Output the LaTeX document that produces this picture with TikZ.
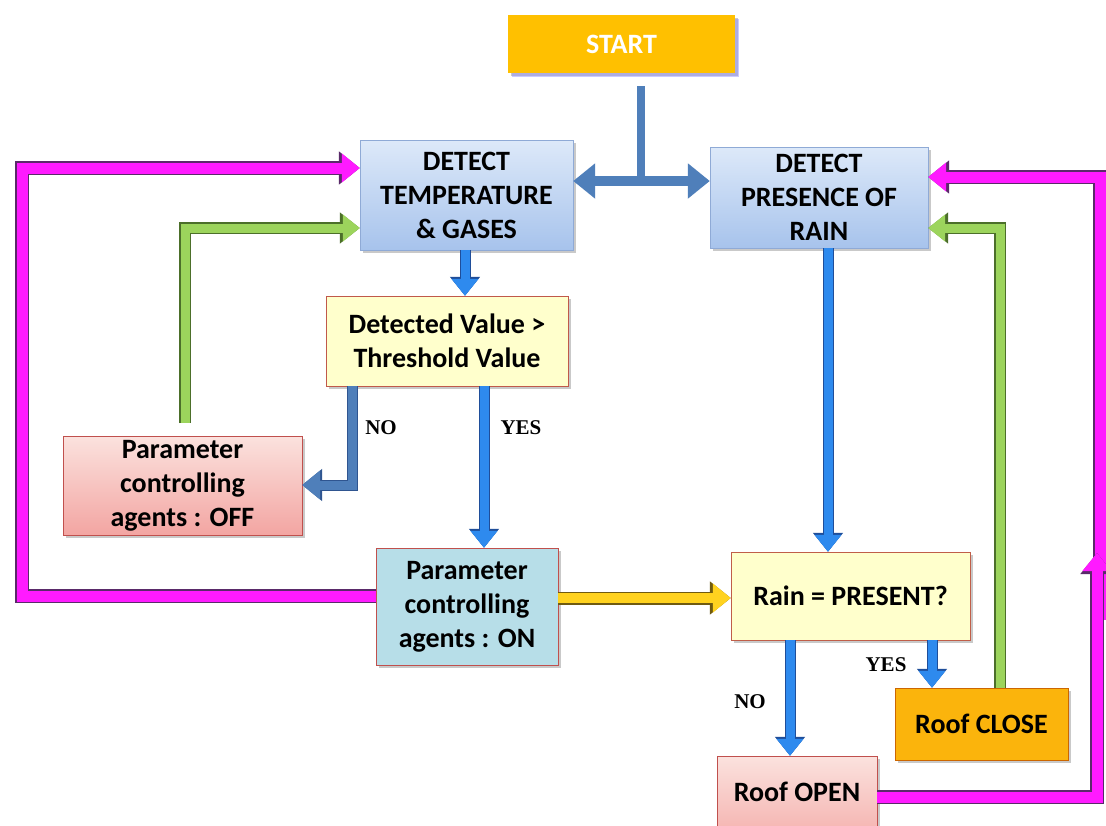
\documentclass[tikz,border=0pt]{standalone}
\usepackage{fontspec}
\setmainfont{Carlito}
\newfontfamily\tnr{Liberation Serif}
\usetikzlibrary{arrows.meta,shadows,calc}
\definecolor{startor}{HTML}{FFC000}
\definecolor{closeor}{HTML}{FBB40C}
\definecolor{bluetop}{HTML}{DDE9F9}
\definecolor{bluebot}{HTML}{A7C3EC}
\definecolor{blueedge}{HTML}{8FAAD6}
\definecolor{lyellow}{HTML}{FFFFCC}
\definecolor{pinktop}{HTML}{FBE2DE}
\definecolor{pinkbot}{HTML}{F3A5A2}
\definecolor{redge}{HTML}{C0504D}
\definecolor{onblue}{HTML}{B7DEE8}
\definecolor{steel}{HTML}{4F7FBA}
\definecolor{steeldark}{HTML}{2F5590}
\definecolor{bblue}{HTML}{2E8AEE}
\definecolor{bbluedark}{HTML}{1F4E9A}
\definecolor{magentaA}{HTML}{FF1AFF}
\definecolor{magdark}{HTML}{5A2A6A}
\definecolor{greenA}{HTML}{9CD45C}
\definecolor{greendark}{HTML}{4C6F2A}
\definecolor{yellowA}{HTML}{FFD21F}
\definecolor{yellowdark}{HTML}{6F5A10}
\tikzset{
  box/.style={rectangle, align=center, inner sep=0pt, font=\fontsize{28}{34}\selectfont\bfseries,
    drop shadow={shadow xshift=3pt, shadow yshift=-3pt, opacity=0.35, fill=black!60}},
  lbl/.style={font=\tnr\fontsize{21}{24}\selectfont\bfseries},
  pinkline/.style={draw=magentaA, line width=11pt,
    preaction={draw=magdark, line width=14pt}},
  pinkarr/.style={draw=magentaA, line width=11pt, -{Triangle[width=28pt,length=18pt]},
    preaction={draw=magdark, line width=14pt, -{Triangle[width=32pt,length=21pt]}}},
  greenarr/.style={draw=greenA, line width=9pt, -{Triangle[width=26pt,length=17pt]},
    preaction={draw=greendark, line width=12pt, -{Triangle[width=30pt,length=20pt]}}},
  yellowarr/.style={draw=yellowA, line width=10pt, -{Triangle[width=28pt,length=18pt]},
    preaction={draw=yellowdark, line width=13pt, -{Triangle[width=32pt,length=21pt]}}},
  steelarr/.style={draw=steel, line width=9pt, -{Triangle[width=28pt,length=18pt]},
    preaction={draw=steeldark, line width=11pt, -{Triangle[width=31pt,length=20pt]}}},
  steelline/.style={draw=steel, line width=8pt},
  steeldbl/.style={draw=steel, line width=10pt, {Triangle[width=34pt,length=22pt]}-{Triangle[width=34pt,length=22pt]}},
  bluearr/.style={draw=bblue, line width=9pt, -{Triangle[width=26pt,length=17pt]},
    preaction={draw=bbluedark, line width=11pt, -{Triangle[width=29pt,length=19pt]}}},
}
\begin{document}
\begin{tikzpicture}[x=1pt, y=-1pt]
\useasboundingbox (0,0) rectangle (1106,825);
\clip (0,0) rectangle (1106,825);
\fill[white] (0,0) rectangle (1106,825);

% nodes
\node[box, fill=startor, text=white, minimum width=227pt, minimum height=58pt,
  drop shadow={shadow xshift=4pt, shadow yshift=-4pt, opacity=0.45, fill=blue!45}] (start) at (621.5,44) {START};
\node[box, draw=blueedge, top color=bluetop, bottom color=bluebot, minimum width=213pt, minimum height=110pt] (temp) at (466.5,195) {DETECT\\TEMPERATURE\\\& GASES};
\node[box, draw=blueedge, top color=bluetop, bottom color=bluebot, minimum width=218pt, minimum height=101pt] (rain) at (819,197.5) {DETECT\\PRESENCE OF\\RAIN};
\node[box, draw=redge!80!brown, fill=lyellow, minimum width=242pt, minimum height=90pt] (detected) at (447,341) {Detected Value \textgreater\\Threshold Value};
\node[box, draw=redge, top color=pinktop, bottom color=pinkbot, minimum width=239pt, minimum height=99pt] (off) at (182.5,485.5) {Parameter\\controlling\\agents : OFF};
\node[box, draw=redge, fill=onblue, minimum width=182pt, minimum height=117pt] (on) at (467,606.5) {Parameter\\controlling\\agents : ON};
\node[box, draw=redge!70!brown, fill=lyellow, minimum width=239pt, minimum height=88pt] (rainq) at (850.5,596) {Rain = PRESENT?};
\node[box, draw=orange!80!black, fill=closeor, minimum width=173pt, minimum height=72pt] (close) at (981.5,724) {Roof CLOSE};
\node[box, draw=redge, top color=pinktop, bottom color=pinkbot!70!pinktop, minimum width=160pt, minimum height=72pt] (open) at (797,792) {Roof OPEN};

% coordinates for connectors
\coordinate (s1) at (641,86);
\coordinate (s2) at (641,181);
\coordinate (pl1) at (22,596);
\coordinate (pl2) at (22,168);
\coordinate (gl1) at (185,423);
\coordinate (gl2) at (185,228);
\coordinate (no1) at (352,386);
\coordinate (no2) at (352,485);
\coordinate (yes1) at (484,386);
\coordinate (gr1) at (1000,688);
\coordinate (gr2) at (1000,228);
\coordinate (pr1) at (1100,620);
\coordinate (pr2) at (1100,177);
\coordinate (po1) at (1097,797);
\coordinate (po2) at (1097,553);

% START split
\draw[steelline] (s1) -- (s2);
\draw[steeldbl] (temp.east |- s2) -- (rain.west |- s2);

% left pink loop
\draw[pinkarr] (on.west |- pl1) -- (pl1) -- (pl2) -- (temp.west |- pl2);
% left green loop
\draw[greenarr] (gl1) -- (gl2) -- (temp.west |- gl2);
% temp -> detected
\draw[bluearr] (temp.south -| 465,0) -- (detected.north -| 465,0);
% NO branch
\draw[steelarr] (no1) -- (no2) -- (off.east |- no2);
% YES branch
\draw[bluearr] (yes1) -- (on.north -| yes1);
% rain -> rainq
\draw[bluearr] (rain.south -| 828,0) -- (rainq.north -| 828,0);
% yellow
\draw[yellowarr] (on.east |- 0,598) -- (rainq.west |- 0,598);
% rainq branches
\draw[bluearr] (rainq.south -| 790,0) -- (open.north -| 790,0);
\draw[bluearr] (rainq.south -| 932,0) -- (close.north -| 932,0);
% right green loop
\draw[greenarr] (gr1) -- (gr2) -- (rain.east |- gr2);
% right pink loop
\draw[pinkarr] (pr1) -- (pr2) -- (rain.east |- pr2);
\draw[pinkarr] (open.east |- po1) -- (po1) -- (po2);

% labels
\node[lbl] (lno1) at (381,428) {NO};
\node[lbl] (lyes1) at (521,428) {YES};
\node[lbl] (lno2) at (750,702) {NO};
\node[lbl] (lyes2) at (886,665) {YES};
\end{tikzpicture}
\end{document}
